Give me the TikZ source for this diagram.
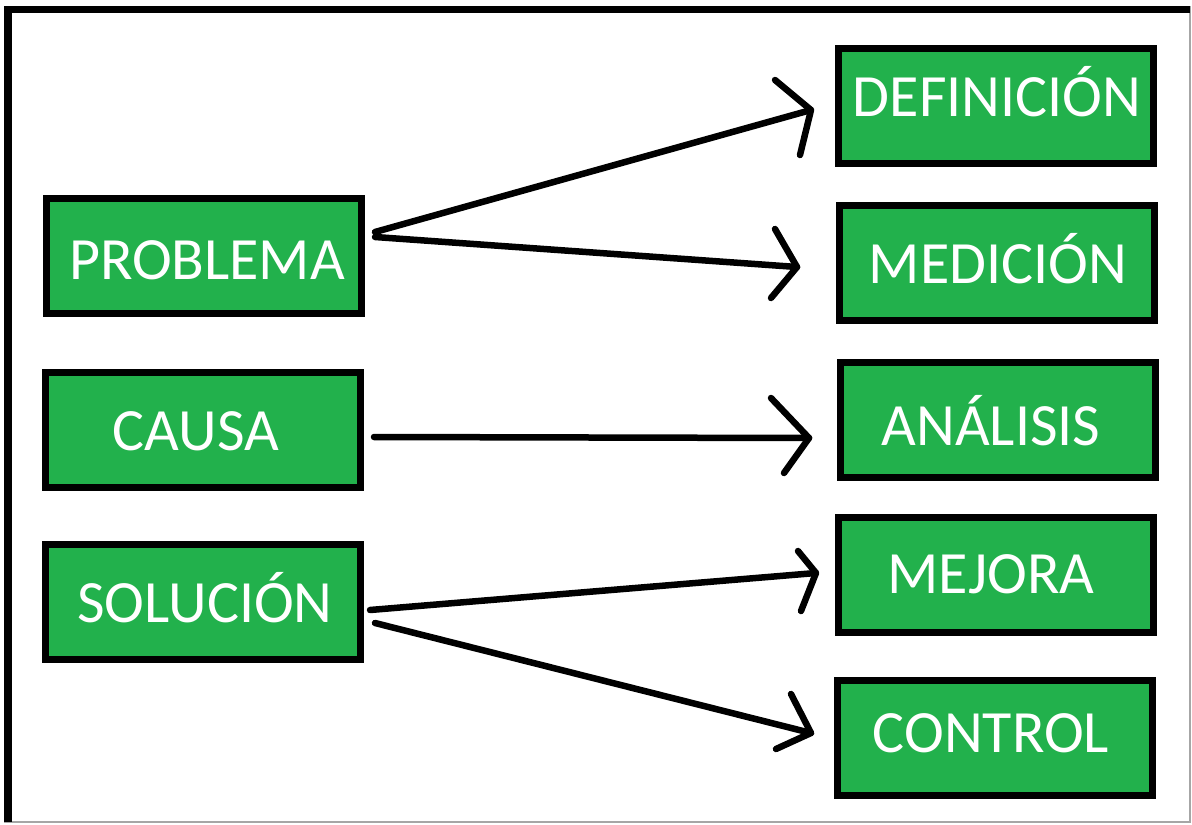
\documentclass[tikz,border=0pt]{standalone}
\usepackage{fontspec}
\setmainfont{Carlito}
\usetikzlibrary{calc}
\definecolor{boxgreen}{RGB}{34,177,76}
\tikzset{
  box/.style={draw=black, line width=7pt, fill=boxgreen, minimum width=315pt, minimum height=115pt, inner sep=0pt},
  lbl/.style={text=white, font=\fontsize{60}{72}\selectfont, anchor=base, inner sep=0pt},
  conn/.style={line width=6.5pt, line cap=round, line join=round},
}
\begin{document}
\begin{tikzpicture}[x=1pt, y=-1pt]
  \useasboundingbox (0,0) rectangle (1192,825);
  % frame
  \fill[white] (0,0) rectangle (1192,825);
  \draw[gray!70, line width=1.2pt] (1190,6) -- (1190,822) -- (4,822);
  \fill[black] (4,6) rectangle (1190,13);
  \fill[black] (4,6) rectangle (12,822);

  % left column
  \node[box] (prob) at (204,256) {};
  \node[box] (causa) at (203,430) {};
  \node[box] (sol) at (203,602) {};
  % right column
  \node[box] (def) at (996,106) {};
  \node[box] (med) at (997,263) {};
  \node[box] (ana) at (998,420) {};
  \node[box] (mej) at (996,575) {};
  \node[box] (ctl) at (995,738) {};

  % labels
  \node[lbl] (tprob) at (207,279) {PROBLEMA};
  \node[lbl] (tcausa) at (196,450) {CAUSA};
  \node[lbl] (tsol) at (205,622) {SOLUCIÓN};
  \node[lbl] (tdef) at (997,116) {DEFINICIÓN};
  \node[lbl] (tmed) at (998,283) {MEDICIÓN};
  \node[lbl] (tana) at (991,445) {ANÁLISIS};
  \node[lbl] (tmej) at (991,593) {MEJORA};
  \node[lbl] (tctl) at (991,752) {CONTROL};

  % connector ends, relative to the boxes
  \coordinate (s1) at ($(prob.east)+(10,-24)$);
  \coordinate (s2) at ($(prob.east)+(10,-19)$);
  \coordinate (s3) at ($(causa.east)+(10,7)$);
  \coordinate (s4) at ($(sol.east)+(6,8)$);
  \coordinate (s5) at ($(sol.east)+(11,21)$);
  \coordinate (t1) at ($(def.west)+(-24,4)$);
  \coordinate (t2) at ($(med.west)+(-39,4)$);
  \coordinate (t3) at ($(ana.west)+(-28,18)$);
  \coordinate (t4) at ($(mej.west)+(-19,-2)$);
  \coordinate (t5) at ($(ctl.west)+(-23,-5)$);

  % shafts
  \draw[conn] (s1) -- (t1);
  \draw[conn] (s2) -- (t2);
  \draw[conn] (s3) -- (t3);
  \draw[conn] (s4) -- (t4);
  \draw[conn] (s5) -- (t5);

  % open hand-drawn heads
  \draw[conn] ($(t1)+(-36,-30)$) -- (t1) -- ($(t1)+(-11,45)$);
  \draw[conn] ($(t2)+(-22,-38)$) -- (t2) -- ($(t2)+(-26,31)$);
  \draw[conn] ($(t3)+(-38,-40)$) -- (t3) -- ($(t3)+(-25,35)$);
  \draw[conn] ($(t4)+(-18,-22)$) -- (t4) -- ($(t4)+(-15,38)$);
  \draw[conn] ($(t5)+(-20,-39)$) -- (t5) -- ($(t5)+(-35,16)$);
\end{tikzpicture}
\end{document}
